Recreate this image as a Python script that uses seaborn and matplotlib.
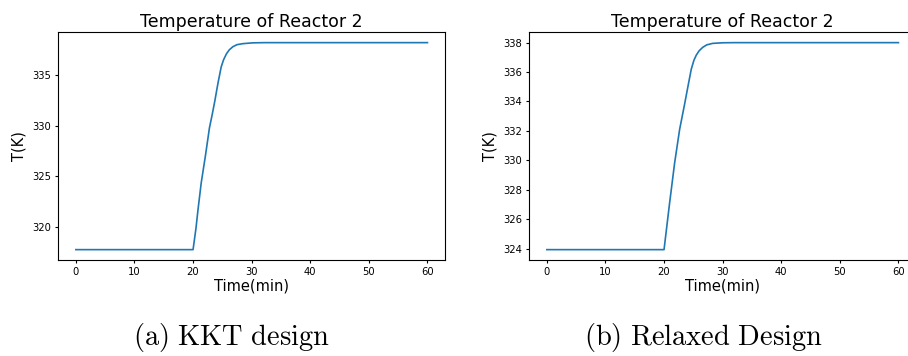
import matplotlib
matplotlib.use("Agg")
import matplotlib.pyplot as plt
import seaborn as sns
import pandas as pd

# time (min) and reactor 2 temperature (K)
kkt_time = [0, 20, 20.5, 20.84, 21.4, 22.1, 22.8, 23.3, 23.7, 24.25, 24.8, 25.2, 25.7, 26.2, 26.8, 27.5, 28.5, 30.2, 32.2, 40, 50, 60]
kkt_temp = [317.78, 317.78, 319.9, 321.7, 324.4, 327.0, 329.8, 331.2, 332.4, 334.2, 335.8, 336.5, 337.1, 337.5, 337.8, 338.0, 338.1, 338.18, 338.2, 338.2, 338.2, 338.2]

relaxed_time = [0, 20, 20.5, 20.95, 21.8, 22.66, 23.5, 24.07, 24.65, 25.1, 25.5, 26.0, 26.6, 27.3, 28.3, 30.0, 32.0, 40, 50, 60]
relaxed_temp = [323.93, 323.93, 325.6, 327.1, 329.8, 332.1, 333.8, 335.0, 336.2, 336.8, 337.15, 337.45, 337.68, 337.85, 337.95, 337.99, 338.0, 338.0, 338.0, 338.0]

titles = ["Temperature of Reactor 2", "Temperature of Reactor 2"]
captions = [r"$\mathrm{(a)\ KKT\ design}$", r"$\mathrm{(b)\ Relaxed\ Design}$"]

plt.rcParams["mathtext.fontset"] = "cm"
plt.rcParams["xtick.major.size"] = 2.4
plt.rcParams["ytick.major.size"] = 2.4

fig = plt.figure(figsize=(9.08, 3.56), dpi=100)
ax_left = fig.add_axes([0.0642, 0.2697, 0.4259, 0.6396])
ax_right = fig.add_axes([0.5829, 0.2697, 0.4259, 0.6396])

series = [(kkt_time, kkt_temp), (relaxed_time, relaxed_temp)]
for ax, (t, T), title in zip([ax_left, ax_right], series, titles):
    df = pd.DataFrame({"t": t, "T": T})
    sns.lineplot(data=df, x="t", y="T", ax=ax, color="#1f77b4", linewidth=1.2,
                 estimator=None, sort=False)
    ax.set_title(title, fontsize=12.5, pad=4)
    ax.set_xlabel("Time(min)", fontsize=10.5, labelpad=1)
    ax.set_ylabel("T(K)", fontsize=10.5, labelpad=4)
    ax.set_xticks([0, 10, 20, 30, 40, 50, 60])
    ax.tick_params(labelsize=7.2, pad=2.5)

ax_left.set_yticks([320, 325, 330, 335])
ax_right.set_yticks([324, 326, 328, 330, 332, 334, 336, 338])

fig.text(231 / 908, 0.03, captions[0], fontsize=20.5, ha="center", va="baseline")
fig.text(703 / 908, 0.03, captions[1], fontsize=20.5, ha="center", va="baseline")

fig.savefig("out.png", dpi=100)
